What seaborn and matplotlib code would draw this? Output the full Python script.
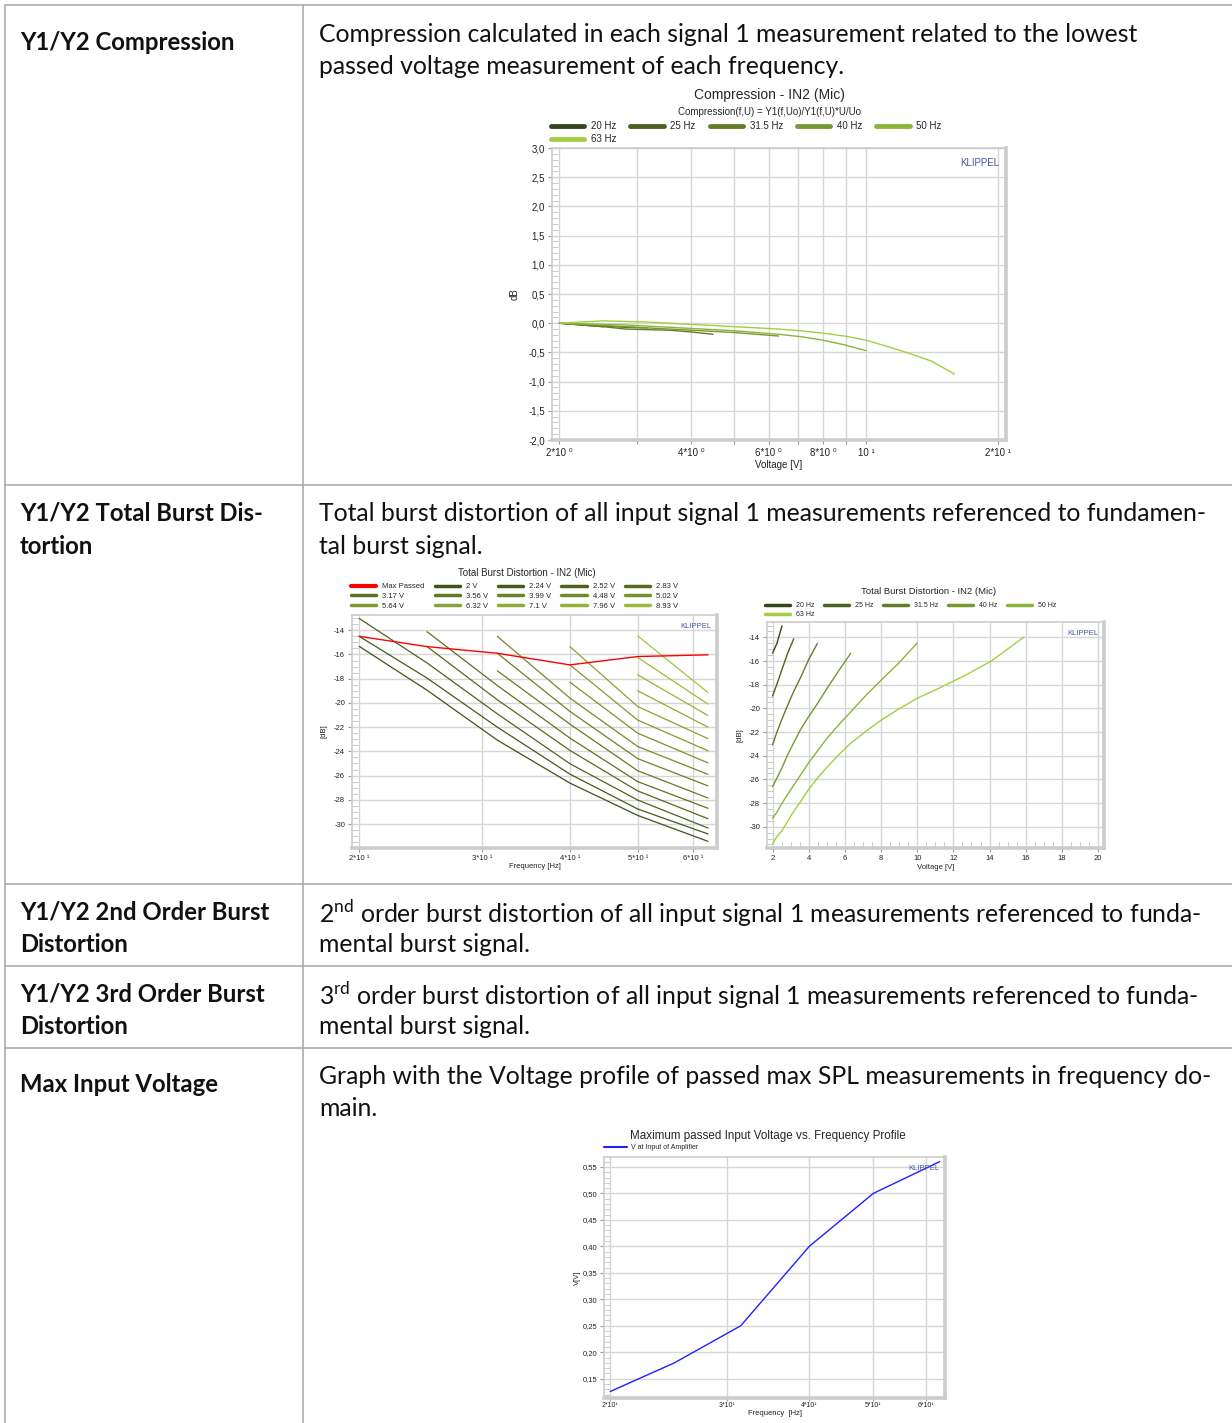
import pandas as pd
import seaborn as sns
import matplotlib.pyplot as plt
from matplotlib.lines import Line2D
from matplotlib.ticker import MultipleLocator, FixedLocator, NullLocator, FuncFormatter

# values
freqs = [20, 25, 31.5, 40, 50, 63]
freq_labels = ['20 Hz', '25 Hz', '31.5 Hz', '40 Hz', '50 Hz', '63 Hz']
volts = [2, 2.24, 2.52, 2.83, 3.17, 3.56, 3.99, 4.48, 5.02, 5.64, 6.32,
         7.1, 7.96, 8.93, 10.0, 11.2, 12.6, 14.1, 15.9]
volt_labels = [f'{v:g} V' for v in volts]

# compression [dB], one value per voltage step starting at 2 V
comp_20 = [0.0, -0.03, -0.06]
comp_25 = [0.0, -0.02, -0.05, -0.07, -0.08]
comp_31 = [0.0, -0.03, -0.06, -0.10, -0.11, -0.12, -0.15, -0.19]
comp_40 = [0.0, -0.02, -0.04, -0.06, -0.08, -0.10, -0.12, -0.14, -0.16, -0.19, -0.22]
comp_50 = [0.0, -0.01, -0.02, -0.03, -0.05, -0.07, -0.09, -0.11, -0.13, -0.16,
           -0.19, -0.23, -0.29, -0.37, -0.47]
comp_63 = [0.0, 0.02, 0.04, 0.03, 0.02, 0.0, -0.02, -0.04, -0.06, -0.08, -0.10,
           -0.13, -0.17, -0.22, -0.29, -0.40, -0.52, -0.65, -0.87]

# total burst distortion [dB], one value per voltage step starting at 2 V
tbd_20 = [-15.33, -14.5, -13.03]
tbd_25 = [-18.95, -17.95, -16.7, -15.35, -14.12]
tbd_31 = [-23.07, -22.0, -20.9, -19.74, -18.56, -17.35, -15.9, -14.5]
tbd_40 = [-26.62, -25.88, -25.02, -23.92, -22.9, -21.75, -20.7, -19.6, -18.29, -16.86, -15.35]
tbd_50 = [-29.29, -28.76, -28.02, -27.27, -26.5, -25.6, -24.6, -23.6, -22.5, -21.42,
          -20.3, -19.0, -17.68, -16.25, -14.47]
tbd_63 = [-31.43, -30.82, -30.33, -29.56, -28.7, -27.85, -26.85, -25.9, -24.95, -23.95,
          -22.95, -22.0, -21.04, -20.1, -19.14, -18.3, -17.25, -16.0, -13.97]
max_passed_db = [-14.5, -15.35, -15.9, -16.86, -16.17, -16.03]

max_input_v = [0.126, 0.18, 0.25, 0.40, 0.50, 0.56]

# long tables for seaborn
rows = []
for f, lab, comp, tbd in zip(freqs, freq_labels,
                             [comp_20, comp_25, comp_31, comp_40, comp_50, comp_63],
                             [tbd_20, tbd_25, tbd_31, tbd_40, tbd_50, tbd_63]):
    for k in range(len(tbd)):
        rows.append({'freq': f, 'freq_label': lab, 'voltage': volts[k],
                     'volt_label': volt_labels[k], 'comp': comp[k], 'tbd': tbd[k]})
df = pd.DataFrame(rows)

freq_colors = sns.blend_palette(['#34481b', '#a2cf42'], 6)
volt_colors = sns.blend_palette(['#3f5217', '#a6c23e'], 15)

sns.set_style('white')
plt.rcParams['font.family'] = ['Liberation Sans', 'DejaVu Sans']
plt.rcParams['mathtext.fontset'] = 'custom'
plt.rcParams['mathtext.rm'] = 'Lato'

W, H = 1232, 1423
fig = plt.figure(figsize=(W / 100, H / 100), dpi=100)


def P(x, y):
    return x / W, 1 - y / H


def box(l, t, r, b):
    return [l / W, 1 - b / H, (r - l) / W, (b - t) / H]


# ---------------- table ----------------
grey = '#a6a6a6'
for y in [5, 485, 884, 966, 1048]:
    fig.add_artist(Line2D([5 / W, 1], [1 - y / H] * 2, color=grey, lw=1.1))
for x in [5, 303]:
    fig.add_artist(Line2D([x / W] * 2, [1 - 5 / H, 0], color=grey, lw=1.1))

renderer = fig.canvas.get_renderer()


def fit_size(text, target, weight):
    t = fig.text(0, 0, text, fontsize=10, family=['Lato', 'DejaVu Sans'], fontweight=weight)
    w = t.get_window_extent(renderer).width
    t.remove()
    return 10 * target / w


fs_desc = fit_size('Compression calculated in each signal 1 measurement related to the lowest', 818, 'normal')
fs_lab = fit_size('Y1/Y2 Compression', 215, 'bold')

labels = [
    (['Y1/Y2 Compression'], [40]),
    (['Y1/Y2 Total Burst Dis-', 'tortion'], [511, 544]),
    (['Y1/Y2 2nd Order Burst', 'Distortion'], [910, 943]),
    (['Y1/Y2 3rd Order Burst', 'Distortion'], [992, 1025]),
    (['Max Input Voltage'], [1082]),
]
descs = [
    (['Compression calculated in each signal 1 measurement related to the lowest',
      'passed voltage measurement of each frequency.'], [32, 65]),
    (['Total burst distortion of all input signal 1 measurements referenced to fundamen-',
      'tal burst signal.'], [511, 544]),
    ([r'2$^{\mathrm{nd}}$ order burst distortion of all input signal 1 measurements referenced to funda-',
      'mental burst signal.'], [910, 943]),
    ([r'3$^{\mathrm{rd}}$ order burst distortion of all input signal 1 measurements referenced to funda-',
      'mental burst signal.'], [992, 1025]),
    (['Graph with the Voltage profile of passed max SPL measurements in frequency do-',
      'main.'], [1074, 1107]),
]
for lines, ys in labels:
    for s, y in zip(lines, ys):
        fig.text(*P(20, y), s, fontsize=fs_lab, fontweight='bold', family=['Lato', 'DejaVu Sans'],
                 va='center_baseline', color='#111111')
for lines, ys in descs:
    for s, y in zip(lines, ys):
        fig.text(*P(319, y), s, fontsize=fs_desc, family=['Lato', 'DejaVu Sans'],
                 va='center_baseline', color='#111111')


# ---------------- chart helpers ----------------
def style_ax(ax, fs, klippel_fs):
    for s in ax.spines.values():
        s.set_color('#cccccc')
        s.set_linewidth(1.2)
    ax.spines['right'].set_linewidth(2.6)
    ax.spines['bottom'].set_linewidth(2.6)
    ax.grid(True, which='major', color='#d6d6d6', lw=1.0)
    ax.tick_params(which='major', direction='out', length=3, color='#999999', labelsize=fs,
                   left=True, bottom=True, pad=2, labelcolor='#222222')
    ax.tick_params(which='minor', direction='in', length=4, color='#c4c4c4', left=True)
    ax.text(0.985, 0.965, 'KLIPPEL', transform=ax.transAxes, ha='right', va='top',
            fontsize=klippel_fs, color='#4357a6')


def place_labels(ax, bx, xlabel, ylabel, xlab_top, ylab_right, fs):
    l, t, r, b = bx
    ax.set_xlabel(xlabel, fontsize=fs, color='#222222')
    ax.set_ylabel(ylabel, fontsize=fs, color='#222222')
    ax.xaxis.set_label_coords(0.5, (b - xlab_top) / (b - t))
    ax.yaxis.set_label_coords((ylab_right - l) / (r - l), 0.5)


def col_major(n, ncol):
    nrow = -(-n // ncol)
    return [r * ncol + c for c in range(ncol) for r in range(nrow) if r * ncol + c < n]


comma1 = FuncFormatter(lambda v, p: f'{v:.1f}'.replace('.', ','))
comma2 = FuncFormatter(lambda v, p: f'{v:.2f}'.replace('.', ','))
intfmt = FuncFormatter(lambda v, p: f'{v:.0f}')

# ---------------- chart 1: compression ----------------
bx1 = (552, 148, 1006, 440)
ax1 = fig.add_axes(box(*bx1))
sns.lineplot(data=df, x='voltage', y='comp', hue='freq_label', hue_order=freq_labels,
             palette=freq_colors, estimator=None, legend=False, lw=1.0, ax=ax1)
ax1.set_xscale('log')
ax1.set_xlim(1.924, 20.85)
ax1.set_ylim(-2.0, 3.0)
ax1.xaxis.set_major_locator(FixedLocator([2, 3, 4, 5, 6, 7, 8, 9, 10, 20]))
ax1.xaxis.set_minor_locator(NullLocator())
ax1.set_xticklabels(['2*10 ⁰', '', '4*10 ⁰', '', '6*10 ⁰', '', '8*10 ⁰', '', '10 ¹', '2*10 ¹'])
ax1.yaxis.set_major_locator(MultipleLocator(0.5))
ax1.yaxis.set_minor_locator(MultipleLocator(0.1))
ax1.yaxis.set_major_formatter(comma1)
style_ax(ax1, 7, 7)
ax1.tick_params(axis='x', pad=3)
place_labels(ax1, bx1, 'Voltage [V]', 'dB', 460, 520, 7)
fig.text(*P(769, 95), 'Compression - IN2 (Mic)', ha='center', va='center', fontsize=10)
fig.text(*P(769, 112), 'Compression(f,U) = Y1(f,Uo)/Y1(f,U)*U/Uo', ha='center', va='center', fontsize=7)
h1 = [Line2D([], [], color=c, lw=3.5) for c in freq_colors]
order = col_major(6, 5)
ax1.legend([h1[i] for i in order], [freq_labels[i] for i in order], ncol=5, loc='upper left',
           bbox_to_anchor=P(551, 121), bbox_transform=fig.transFigure, frameon=False,
           fontsize=7, handlelength=3.4, handletextpad=0.7, columnspacing=1.45,
           labelspacing=0.35, borderpad=0, borderaxespad=0)

# ---------------- chart 2: total burst distortion vs frequency ----------------
bx2 = (352, 615, 717, 848)
ax2 = fig.add_axes(box(*bx2))
sub = df[df['voltage'] <= 10]
sns.lineplot(data=sub, x='freq', y='tbd', hue='volt_label', hue_order=volt_labels[:15],
             palette=volt_colors, estimator=None, legend=False, lw=0.9, ax=ax2)
sns.lineplot(x=freqs, y=max_passed_db, color='red', lw=1.0, ax=ax2)
ax2.set_xscale('log')
ax2.set_xlim(19.53, 64.9)
ax2.set_ylim(-31.98, -12.74)
ax2.xaxis.set_major_locator(FixedLocator([20, 30, 40, 50, 60]))
ax2.xaxis.set_minor_locator(NullLocator())
ax2.set_xticklabels(['2*10 ¹', '3*10 ¹', '4*10 ¹', '5*10 ¹', '6*10 ¹'])
ax2.yaxis.set_major_locator(MultipleLocator(2))
ax2.yaxis.set_minor_locator(MultipleLocator(0.5))
ax2.yaxis.set_major_formatter(intfmt)
style_ax(ax2, 5.5, 5.5)
place_labels(ax2, bx2, 'Frequency [Hz]', '[dB]', 863, 328, 5.5)
fig.text(*P(527, 573), 'Total Burst Distortion - IN2 (Mic)', ha='center', va='center', fontsize=7)
h2 = [Line2D([], [], color='red', lw=3)] + [Line2D([], [], color=c, lw=2.5) for c in volt_colors[:14]]
l2 = ['Max Passed'] + volt_labels[:14]
order = col_major(15, 5)
ax2.legend([h2[i] for i in order], [l2[i] for i in order], ncol=5, loc='upper left',
           bbox_to_anchor=P(351, 583), bbox_transform=fig.transFigure, frameon=False,
           fontsize=5.5, handlelength=3.3, handletextpad=0.8, columnspacing=1.3,
           labelspacing=0.3, borderpad=0, borderaxespad=0)

# ---------------- chart 3: total burst distortion vs voltage ----------------
bx3 = (767, 622, 1104, 848)
ax3 = fig.add_axes(box(*bx3))
sns.lineplot(data=df, x='voltage', y='tbd', hue='freq_label', hue_order=freq_labels,
             palette=freq_colors, estimator=None, legend=False, lw=1.0, ax=ax3)
ax3.set_xlim(1.69, 20.33)
ax3.set_ylim(-31.8, -12.7)
ax3.xaxis.set_major_locator(MultipleLocator(2))
ax3.xaxis.set_minor_locator(MultipleLocator(0.5))
ax3.yaxis.set_major_locator(MultipleLocator(2))
ax3.yaxis.set_minor_locator(MultipleLocator(0.5))
ax3.xaxis.set_major_formatter(intfmt)
ax3.yaxis.set_major_formatter(intfmt)
style_ax(ax3, 5.5, 5.5)
ax3.tick_params(which='minor', bottom=True)
place_labels(ax3, bx3, 'Voltage [V]', '[dB]', 864, 744, 5.5)
fig.text(*P(929, 592), 'Total Burst Distortion - IN2 (Mic)', ha='center', va='center', fontsize=6.8)
h3 = [Line2D([], [], color=c, lw=2.5) for c in freq_colors]
order = col_major(6, 5)
ax3.legend([h3[i] for i in order], [freq_labels[i] for i in order], ncol=5, loc='upper left',
           bbox_to_anchor=P(765, 602), bbox_transform=fig.transFigure, frameon=False,
           fontsize=5, handlelength=3.6, handletextpad=0.8, columnspacing=1.45,
           labelspacing=0.3, borderpad=0, borderaxespad=0)

# ---------------- chart 4: max input voltage ----------------
bx4 = (604, 1157, 945, 1398)
ax4 = fig.add_axes(box(*bx4))
sns.lineplot(x=freqs, y=max_input_v, color='#2020ff', lw=1.0, ax=ax4)
ax4.set_xscale('log')
ax4.set_xlim(19.56, 64.2)
ax4.set_ylim(0.1136, 0.5688)
ax4.xaxis.set_major_locator(FixedLocator([20, 30, 40, 50, 60]))
ax4.xaxis.set_minor_locator(NullLocator())
ax4.set_xticklabels(['2*10¹', '3*10¹', '4*10¹', '5*10¹', '6*10¹'])
ax4.yaxis.set_major_locator(MultipleLocator(0.05))
ax4.yaxis.set_minor_locator(MultipleLocator(0.01))
ax4.yaxis.set_major_formatter(comma2)
style_ax(ax4, 5.5, 5.5)
ax4.tick_params(axis='x', pad=1, length=2, labelsize=5)
place_labels(ax4, bx4, 'Frequency  [Hz]', 'V[V]', 1410, 581, 5.5)
fig.text(*P(768, 1136), 'Maximum passed Input Voltage vs. Frequency Profile', ha='center',
         va='center', fontsize=8.4)
ax4.legend([Line2D([], [], color='#2020ff', lw=1.5)], ['V at Input of Amplifier'], loc='upper left',
           bbox_to_anchor=P(604, 1144), bbox_transform=fig.transFigure, frameon=False,
           fontsize=5, handlelength=3.3, handletextpad=0.6, borderpad=0, borderaxespad=0)

fig.savefig('out.png', dpi=100, facecolor='white')
